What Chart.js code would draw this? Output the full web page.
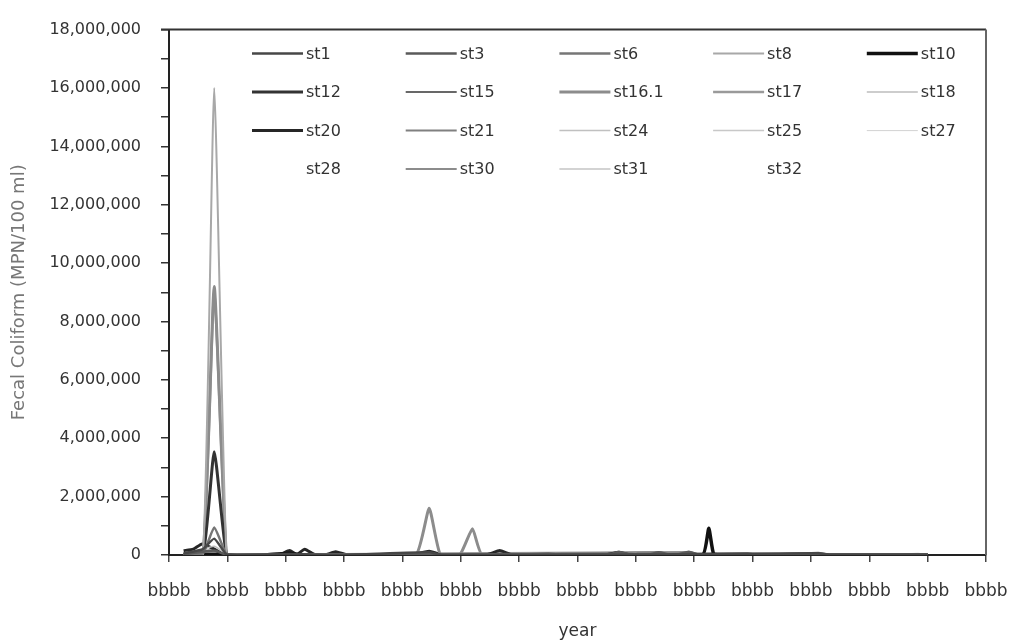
<!DOCTYPE html>
<html>
<head>
<meta charset="utf-8">
<script src="https://cdn.jsdelivr.net/npm/chart.js@4.4.0/dist/chart.umd.min.js"></script>
<style>
  html, body { margin: 0; padding: 0; background: #fff; }
</style>
</head>
<body>
<canvas id="chart" width="1013" height="644"></canvas>
<script>
// x values are sample months counted from the first "bbbb" tick
const xLabels = ["bbbb", "bbbb", "bbbb", "bbbb", "bbbb", "bbbb", "bbbb", "bbbb",
                 "bbbb", "bbbb", "bbbb", "bbbb", "bbbb", "bbbb", "bbbb"];

const stations = ["st1", "st3", "st6", "st8", "st10", "st12", "st15", "st16.1", "st17", "st18",
                  "st20", "st21", "st24", "st25", "st27", "st28", "st30", "st31", "st32"];

const st1 = [[3, 60000], [5, 120000], [7, 200000], [9.3, 560000], [11.8, 20000], [14, 10000], [24.8, 30000],
             [36, 10000], [53.5, 90000], [56, 10000], [100, 20000], [133.5, 60000], [136, 10000], [156, 10000]];
const st3 = [[3, 20000], [9.3, 150000], [12, 0], [30, 10000], [90, 10000], [92.5, 100000], [95, 10000],
             [98.5, 10000], [100.7, 90000], [103, 10000], [104.5, 10000], [106.9, 110000], [109, 10000], [156, 10000]];
const st6 = [[3, 0], [7, 60000], [9.3, 940000], [11.8, 30000], [14, 0], [40, 10000], [156, 5000]];
const st8 = [[3, 40000], [7, 20000], [9.3, 16000000], [11.8, 20000], [14, 30000], [156, 10000]];
const st10 = [[3, 10000], [20, 10000], [24.8, 60000], [27, 10000], [100, 10000], [109.8, 20000],
              [111, 920000], [112, 30000], [114, 10000], [156, 0]];
const st12 = [[3, 20000], [7, 30000], [9.3, 3540000], [11.8, 20000], [14, 0], [156, 0]];
const st15 = [[3, 0], [70, 10000], [78, 60000], [81, 10000], [119, 60000], [121, 10000],
              [133.5, 80000], [136, 10000], [156, 10000]];
const st16_1 = [[3, 10000], [7, 30000], [9.3, 9200000], [11.8, 30000], [14, 10000], [40, 10000], [50.8, 10000],
                [53.5, 1600000], [55.8, 10000], [59.8, 10000], [62.4, 900000], [64.4, 10000], [80, 10000], [156, 10000]];
const st17 = [[3, 20000], [7, 20000], [9.3, 9000000], [11.8, 20000], [14, 10000], [156, 10000]];
const st18 = [[3, 50000], [5, 80000], [9.3, 300000], [12, 20000], [30, 10000], [78, 50000], [90, 10000],
              [96, 50000], [97.5, 0], [120, 10000], [125, 40000], [128, 10000], [156, 20000]];
const st20 = [[3, 150000], [5, 200000], [6.8, 380000], [9.3, 200000], [11.5, 0], [22.5, 0], [24.8, 150000],
              [26.3, 20000], [27.9, 200000], [30, 10000], [32, 0], [34.3, 110000], [36.5, 10000], [50, 10000],
              [53.5, 130000], [56, 20000], [65.5, 20000], [68, 150000], [70.5, 10000], [90, 10000],
              [92.5, 90000], [94.5, 10000], [156, 5000]];
const st21 = [[3, 10000], [9.3, 100000], [12, 10000], [60, 10000], [100.7, 90000], [103, 10000], [156, 10000]];
const st24 = [[3, 30000], [9.3, 200000], [12, 10000], [40, 20000], [60, 10000], [78, 40000], [80, 10000],
              [100, 30000], [140, 40000], [156, 20000]];
const st25 = [[3, 10000], [20, 20000], [40, 10000], [88, 40000], [96, 10000], [97, 80000], [99, 0],
              [119, 50000], [150, 20000], [154, 50000], [156, 10000]];
const st27 = [[3, 20000], [50, 20000], [100, 20000], [156, 20000]];
const st28 = [[3, 0], [156, 0]];
const st30 = [[3, 10000], [9.3, 80000], [12, 10000], [106.9, 100000], [109, 10000], [156, 5000]];
const st31 = [[3, 10000], [20, 30000], [60, 20000], [139.7, 40000], [142, 10000], [156, 10000]];
const st32 = [[3, 0], [156, 0]];

const seriesValues = [st1, st3, st6, st8, st10, st12, st15, st16_1, st17, st18,
                      st20, st21, st24, st25, st27, st28, st30, st31, st32];

const lineColors = ["#474747", "#5a5a5a", "#767676", "#a8a8a8", "#111111", "#333333", "#686868", "#8c8c8c",
                    "#9a9a9a", "#bdbdbd", "#262626", "#808080", "#c0c0c0", "#c8c8c8", "#d2d2d2",
                    "rgba(0,0,0,0)", "#8c8c8c", "#c4c4c4", "rgba(0,0,0,0)"];
const lineWidths = [2.5, 2.5, 2.5, 2, 3.5, 3, 2, 3, 2.5, 1.5, 3, 2, 1.5, 1.5, 1, 1, 2, 1.5, 1];

const FONT = "'DejaVu Sans', Verdana, sans-serif";

const datasets = stations.map((name, i) => ({
  label: name,
  data: seriesValues[i].map(p => ({ x: p[0], y: p[1] })),
  borderColor: lineColors[i],
  borderWidth: lineWidths[i],
  borderJoinStyle: "round",
  pointRadius: 0,
  tension: 0.15,
  fill: false
}));

// plot frame (top and right edges)
const framePlugin = {
  id: "frame",
  beforeDatasetsDraw(chart) {
    const { ctx, chartArea: a } = chart;
    ctx.save();
    ctx.lineWidth = 2;
    ctx.strokeStyle = "#333";
    ctx.beginPath();
    ctx.moveTo(a.left - 8, a.top);
    ctx.lineTo(a.right, a.top);
    ctx.stroke();
    ctx.strokeStyle = "#666";
    ctx.beginPath();
    ctx.moveTo(a.right, a.top);
    ctx.lineTo(a.right, a.bottom);
    ctx.stroke();
    ctx.restore();
  }
};

// legend inside the plot, 5 columns
const legendPlugin = {
  id: "innerLegend",
  afterDraw(chart) {
    const { ctx, chartArea: a } = chart;
    ctx.save();
    ctx.font = "16px " + FONT;
    ctx.textBaseline = "middle";
    ctx.fillStyle = "#333";
    chart.data.datasets.forEach((ds, i) => {
      const col = i % 5, row = Math.floor(i / 5);
      const x0 = a.left + 83 + col * 153.7;
      const y0 = a.top + 24 + row * 38.5;
      ctx.strokeStyle = ds.borderColor;
      ctx.lineWidth = ds.borderWidth;
      ctx.beginPath();
      ctx.moveTo(x0, y0);
      ctx.lineTo(x0 + 51, y0);
      ctx.stroke();
      ctx.fillText(ds.label, x0 + 54, y0 + 1);
    });
    ctx.restore();
  }
};

new Chart(document.getElementById("chart"), {
  type: "line",
  data: { datasets },
  plugins: [framePlugin, legendPlugin],
  options: {
    responsive: false,
    devicePixelRatio: 1,
    animation: false,
    layout: { padding: { top: 28, right: 27, bottom: 0, left: 0 } },
    plugins: { legend: { display: false }, tooltip: { enabled: false } },
    scales: {
      x: {
        type: "linear",
        min: 0,
        max: 168,
        afterFit: s => { s.height = 89; s.paddingRight = 0; },
        border: { color: "#222", width: 2 },
        grid: { drawOnChartArea: false, tickLength: 7, color: "#444", lineWidth: 1.5 },
        ticks: {
          stepSize: 12,
          autoSkip: false,
          maxRotation: 0,
          padding: 19,
          color: "#333",
          font: { family: FONT, size: 17 },
          callback: (v, i) => xLabels[i]
        },
        title: {
          display: true,
          text: "year",
          color: "#333",
          font: { family: FONT, size: 17 },
          padding: { top: 0, bottom: 2 }
        }
      },
      y: {
        min: 0,
        max: 18000000,
        afterFit: s => { s.width = 169; },
        border: { color: "#222", width: 2 },
        grid: { drawOnChartArea: false, tickLength: 8, color: "#333", lineWidth: 1.5 },
        ticks: {
          stepSize: 1000000,
          autoSkip: false,
          padding: 20,
          color: "#333",
          font: { family: FONT, size: 16 },
          callback: v => (v % 2000000 === 0 ? v.toLocaleString("en-US") : "")
        },
        title: {
          display: true,
          text: "Fecal Coliform (MPN/100 ml)",
          color: "#777",
          font: { family: FONT, size: 18 },
          padding: { top: 9, bottom: 0 }
        }
      }
    }
  }
});
</script>
</body>
</html>
